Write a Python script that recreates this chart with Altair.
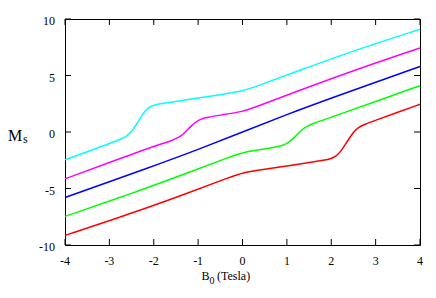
import altair as alt
import pandas as pd

# ---- data ----
series_names = ["red", "green", "blue", "magenta", "cyan"]
series_colors = ["#ff0000", "#00ff00", "#0000ff", "#ff00ff", "#00ffff"]

red_x = [-4, -2.5, -1.3, -0.25, 0, 0.5, 1.0, 1.5, 1.85, 2.0, 2.1, 2.2, 2.3, 2.4, 2.5, 2.6, 2.75, 3.0, 3.5, 4]
red_y = [-9.15, -7.2, -5.5, -3.95, -3.6, -3.3, -3.0, -2.7, -2.5, -2.36, -2.15, -1.8, -1.2, -0.6, 0.0, 0.38, 0.68, 1.03, 1.75, 2.45]

green_x = [-4, -2.5, -1.3, -0.25, 0, 0.5, 0.8, 0.95, 1.05, 1.15, 1.25, 1.35, 1.45, 1.6, 2.0, 3.0, 4]
green_y = [-7.47, -5.45, -3.7, -2.15, -1.82, -1.5, -1.3, -1.12, -0.9, -0.55, -0.15, 0.25, 0.5, 0.78, 1.3, 2.7, 4.1]

blue_x = [-4, -2, -1, 0, 1, 2, 4]
blue_y = [-5.8, -3.0, -1.55, 0.0, 1.55, 3.0, 5.8]

magenta_x = [-4, -3, -2, -1.6, -1.45, -1.35, -1.25, -1.15, -1.05, -0.95, -0.8, -0.5, 0, 0.25, 1.3, 2.5, 4]
magenta_y = [-4.15, -2.7, -1.25, -0.78, -0.5, -0.25, 0.15, 0.55, 0.9, 1.12, 1.3, 1.5, 1.79, 2.15, 3.7, 5.45, 7.44]

cyan_x = [-4, -3.5, -3.0, -2.75, -2.6, -2.5, -2.4, -2.3, -2.2, -2.1, -2.0, -1.85, -1.5, -1.0, -0.5, 0, 0.25, 1.3, 2.5, 4]
cyan_y = [-2.47, -1.75, -1.03, -0.65, -0.35, 0.05, 0.6, 1.25, 1.85, 2.2, 2.38, 2.52, 2.7, 3.0, 3.3, 3.62, 3.95, 5.47, 7.2, 9.09]

x_ticks = [-4, -3, -2, -1, 0, 1, 2, 3, 4]
x_tick_labels = ["-4", "-3", "-2", "-1", "0", "1", "2", "3", "4"]
y_ticks = [-10, -5, 0, 5, 10]
y_tick_labels = ["-10", "-5", "0", "5", "10"]

# ---- build table ----
rows = []
for name, xs, ys in [
    ("red", red_x, red_y),
    ("green", green_x, green_y),
    ("blue", blue_x, blue_y),
    ("magenta", magenta_x, magenta_y),
    ("cyan", cyan_x, cyan_y),
]:
    for xv, yv in zip(xs, ys):
        rows.append({"series": name, "B": xv, "M": yv})
df = pd.DataFrame(rows)

W, H = 355, 226
FONT = "Liberation Serif"

xscale = alt.Scale(domain=[-4, 4], nice=False, zero=False)
yscale = alt.Scale(domain=[-10, 10], nice=False, zero=False)

lines = alt.Chart(df).mark_line(interpolate="basis", strokeWidth=1.5).encode(
    x=alt.X("B:Q", scale=xscale, axis=None),
    y=alt.Y("M:Q", scale=yscale, axis=None),
    color=alt.Color("series:N", scale=alt.Scale(domain=series_names, range=series_colors), legend=None),
)

xt = pd.DataFrame({"v": x_ticks, "lab": x_tick_labels})
yt = pd.DataFrame({"v": y_ticks, "lab": y_tick_labels})
tick_len = 6
xb = alt.Chart(xt).mark_rule(color="black", strokeWidth=1).encode(
    x=alt.X("v:Q", scale=xscale), y=alt.value(H), y2=alt.value(H - tick_len))
xtop = alt.Chart(xt).mark_rule(color="black", strokeWidth=1).encode(
    x=alt.X("v:Q", scale=xscale), y=alt.value(0), y2=alt.value(tick_len))
yl = alt.Chart(yt).mark_rule(color="black", strokeWidth=1).encode(
    y=alt.Y("v:Q", scale=yscale), x=alt.value(0), x2=alt.value(tick_len))
yr = alt.Chart(yt).mark_rule(color="black", strokeWidth=1).encode(
    y=alt.Y("v:Q", scale=yscale), x=alt.value(W), x2=alt.value(W - tick_len))

xlab = alt.Chart(xt).mark_text(font=FONT, fontSize=12, align="center", baseline="alphabetic",
                               color="black").encode(
    x=alt.X("v:Q", scale=xscale), y=alt.value(H + 19.5), text="lab:N")
ylab = alt.Chart(yt).mark_text(font=FONT, fontSize=12, align="right", baseline="middle",
                               color="black", dy=2).encode(
    y=alt.Y("v:Q", scale=yscale), x=alt.value(-10), text="lab:N")

def label(text, x, y, size):
    return alt.Chart(pd.DataFrame({"t": [text]})).mark_text(
        font=FONT, fontSize=size, align="left", baseline="alphabetic", color="black"
    ).encode(text="t:N", x=alt.value(x), y=alt.value(y))

titles = [
    label("M", -57, 122, 16),
    label("s", -42, 123.5, 12),
    label("B", 136.5, 261, 12),
    label("0", 144.5, 264.5, 10),
    label("(Tesla)", 152, 261, 12),
]

chart = alt.layer(lines, xb, xtop, yl, yr, xlab, ylab, *titles).properties(
    width=W, height=H,
    background="white",
    autosize=alt.AutoSizeParams(type="none"),
    padding={"left": 57, "top": 11, "right": 8, "bottom": 45},
).configure_view(stroke="black", strokeWidth=1)

chart.save("out.html", embed_options={"renderer": "svg", "actions": False})
